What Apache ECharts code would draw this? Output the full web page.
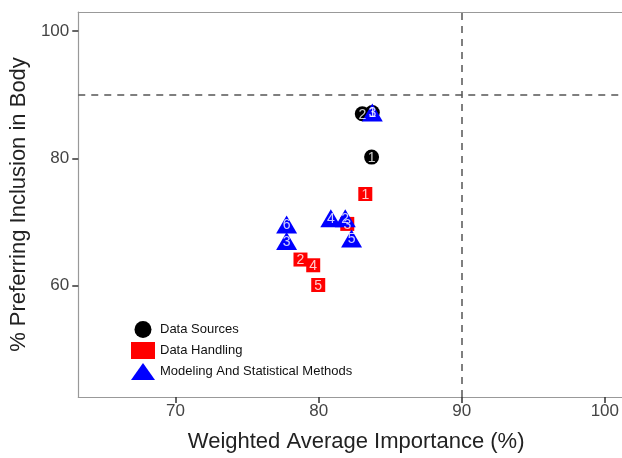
<!DOCTYPE html>
<html>
<head>
<meta charset="utf-8">
<script src="https://cdn.jsdelivr.net/npm/echarts@6/dist/echarts.min.js"></script>
<style>html,body{margin:0;padding:0;background:#fff}#c{width:622px;height:458px}</style>
</head>
<body>
<div id="c"></div>
<script>
// ---- data ----
const seriesNames = ['Data Sources', 'Data Handling', 'Modeling And Statistical Methods'];
const sourcesX = [83.7, 83.05, 83.75];
const sourcesY = [80.2, 87.0, 87.2];
const sourcesLbl = ['1', '2', '3'];
const handlingX = [83.26, 78.73, 82.0, 79.62, 79.97];
const handlingY = [74.4, 64.1, 69.7, 63.2, 60.1];
const handlingLbl = ['1', '2', '3', '4', '5'];
const modelX = [83.75, 81.86, 77.76, 80.85, 82.3, 77.76];
const modelY = [87.2, 70.6, 67.0, 70.6, 67.4, 69.6];
const modelLbl = ['1', '2', '3', '4', '5', '6'];
const xTicks = [70, 80, 90, 100];
const yTicks = [60, 80, 100];
const refX = 90, refY = 90;

const FONT = 'Liberation Sans, Arial, sans-serif';
function pts(xs, ys, ls) { return xs.map((x, i) => ({ value: [x, ys[i]], name: ls[i] })); }

const colors = ['#000000', '#ff0000', '#0000ff'];
const symbols = ['circle', 'rect', 'triangle'];
const sizes = [15, 14, [21, 18]];
const groups = [pts(sourcesX, sourcesY, sourcesLbl), pts(handlingX, handlingY, handlingLbl), pts(modelX, modelY, modelLbl)];

const series = [];
groups.forEach((d, i) => {
  series.push({
    name: seriesNames[i], type: 'scatter', data: d, symbol: symbols[i], symbolSize: sizes[i],
    itemStyle: { color: colors[i], opacity: 1 }, z: 2 + i, silent: true,
    label: { show: false }
  });
});
// number labels on top of all markers
const lblOrder = [2, 1, 0];
lblOrder.forEach((i, k) => {
  series.push({
    name: 'lbl' + i, type: 'scatter', data: groups[i], symbolSize: 1,
    itemStyle: { color: 'rgba(0,0,0,0)' }, z: 10 + k, silent: true,
    label: { show: true, position: 'inside', formatter: p => p.name, color: '#fff', fontSize: 14, fontFamily: FONT,
      offset: [0, 1] }
  });
});
// reference dashed lines
series.push({
  type: 'scatter', data: [], silent: true, z: 1,
  markLine: { silent: true, symbol: 'none', label: { show: false },
    lineStyle: { color: '#555', type: [7, 6], width: 1.5 },
    data: [{ xAxis: refX }, { yAxis: refY }] }
});

const chart = echarts.init(document.getElementById('c'));
chart.setOption({
  animation: false,
  backgroundColor: '#fff',
  textStyle: { fontFamily: FONT },
  grid: { left: 77, right: 0, top: 12, bottom: 51, containLabel: false },
  legend: {
    data: seriesNames, orient: 'vertical', left: 126, top: 316, itemGap: 4,
    itemWidth: 24, itemHeight: 17, textStyle: { fontSize: 13, color: '#111', fontFamily: FONT },
    selectedMode: false
  },
  xAxis: [{
    type: 'value', min: 63.2, max: 101.2, position: 'bottom',
    name: 'Weighted Average Importance (%)', nameLocation: 'middle', nameGap: 34,
    nameTextStyle: { fontSize: 22, color: '#222', fontFamily: FONT, padding: [0, 0, 0, 12] },
    splitLine: { show: false },
    axisLine: { show: true, lineStyle: { color: '#999', width: 1.2 } },
    axisTick: { show: true, length: 6, lineStyle: { color: '#333', width: 1.5 }, customValues: xTicks },
    axisLabel: { fontSize: 17, color: '#444', margin: 6, customValues: xTicks, fontFamily: FONT }
  }, {
    type: 'value', min: 63.2, max: 101.2, position: 'top',
    splitLine: { show: false }, axisTick: { show: false }, axisLabel: { show: false },
    axisLine: { show: true, lineStyle: { color: '#999', width: 1.2 } }
  }],
  yAxis: {
    type: 'value', min: 42.5, max: 103,
    name: '% Preferring Inclusion in Body', nameLocation: 'middle', nameGap: 41,
    nameTextStyle: { fontSize: 22, color: '#222', fontFamily: FONT },
    splitLine: { show: false },
    axisLine: { show: true, lineStyle: { color: '#999', width: 1.2 } },
    axisTick: { show: true, length: 6, lineStyle: { color: '#333', width: 1.5 }, customValues: yTicks },
    axisLabel: { fontSize: 17, color: '#444', margin: 9, customValues: yTicks, fontFamily: FONT }
  },
  series: series
});
</script>
</body>
</html>
